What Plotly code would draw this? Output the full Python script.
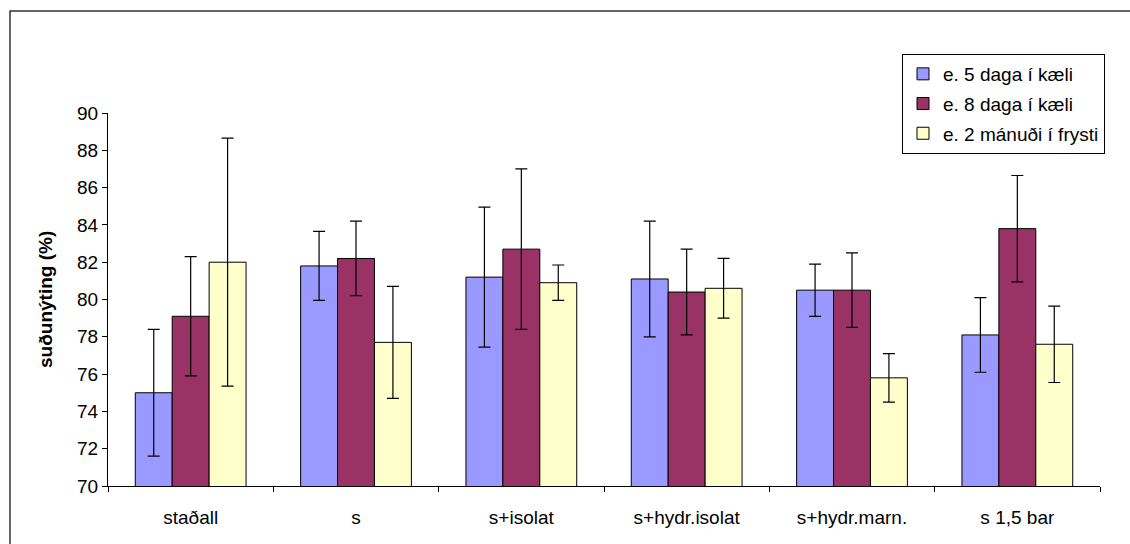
import plotly.graph_objects as go

categories = ["staðall", "s", "s+isolat", "s+hydr.isolat", "s+hydr.marn.", "s 1,5 bar"]
series_names = ["e. 5 daga í kæli", "e. 8 daga í kæli", "e. 2 mánuði í frysti"]
vals_5d = [75.0, 81.8, 81.2, 81.1, 80.5, 78.1]
vals_8d = [79.1, 82.2, 82.7, 80.4, 80.5, 83.8]
vals_2m = [82.0, 77.7, 80.9, 80.6, 75.8, 77.6]
err_5d = [3.4, 1.85, 3.75, 3.1, 1.4, 2.0]
err_8d = [3.2, 2.0, 4.3, 2.3, 2.0, 2.85]
err_2m = [6.65, 3.0, 0.95, 1.6, 1.3, 2.05]
colors = ["#9999FF", "#993366", "#FFFFCC"]

W, H = 1130, 544
L, R, T, B = 108, 30, 113, 58
pw = W - L - R
ph = H - T - B

def px_x(p):
    return (p - L) / pw

def px_y(p):
    return (H - B - p) / ph

FONT = "Liberation Sans, Arial, sans-serif"
FS = 19

fig = go.Figure()
for name, vals, errs, col in zip(series_names, [vals_5d, vals_8d, vals_2m],
                                 [err_5d, err_8d, err_2m], colors):
    fig.add_trace(go.Bar(
        x=categories, y=vals, name=name, legendgroup=name,
        marker=dict(color=col, line=dict(color="black", width=1)),
        error_y=dict(type="data", array=errs, visible=True,
                     color="black", thickness=1.2, width=6),
    ))

fig.update_layout(
    width=W, height=H,
    margin=dict(l=L, r=R, t=T, b=B, autoexpand=False),
    paper_bgcolor="white", plot_bgcolor="white",
    barmode="group", bargap=0.33, bargroupgap=0,
    font=dict(family=FONT, size=FS, color="black"),
    showlegend=True,
    legend=dict(
        x=px_x(902), y=px_y(54), xanchor="left", yanchor="top",
        bordercolor="black", borderwidth=1, bgcolor="white",
        font=dict(family=FONT, size=FS, color="black"),
        tracegroupgap=2, itemwidth=30,
    ),
    xaxis=dict(
        showline=True, linecolor="black", linewidth=1,
        ticks="outside", ticklen=5, tickcolor="black", tickson="boundaries",
        showgrid=False, ticklabelstandoff=14,
        tickfont=dict(family=FONT, size=FS),
    ),
    yaxis=dict(
        range=[70, 90], dtick=2, tick0=70,
        showline=True, linecolor="black", linewidth=1,
        ticks="outside", ticklen=5, tickcolor="black",
        showgrid=False, zeroline=False,
        tickfont=dict(family=FONT, size=FS),
    ),
    annotations=[dict(
        text="<b>suðunýting (%)</b>", xref="paper", yref="paper",
        x=px_x(45), y=px_y(300), textangle=-90, showarrow=False,
        font=dict(family=FONT, size=FS, color="black"),
        xanchor="center", yanchor="middle",
    )],
    shapes=[dict(
        type="rect", xref="paper", yref="paper",
        x0=px_x(10), x1=px_x(1160), y0=px_y(580), y1=px_y(11),
        line=dict(color="#333333", width=1.5), layer="below",
    )],
)

fig.write_html(
    "out.html",
    config={"displayModeBar": False},
    post_script="document.body.style.margin='0';document.body.style.padding='0';",
)
